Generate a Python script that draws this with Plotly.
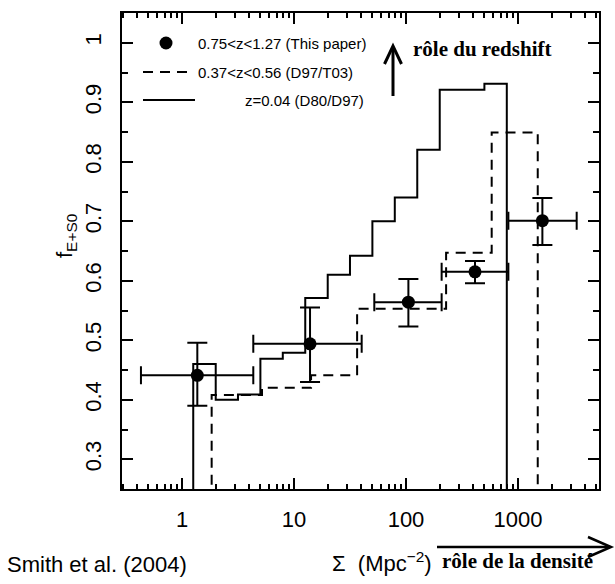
import plotly.graph_objects as go

# ---------------- data ----------------
# filled points: 0.75<z<1.27 (This paper)
pt_sigma = [1.37, 13.9, 105, 413, 1650]
pt_sigma_lo = [0.43, 4.33, 52.1, 208, 820]
pt_sigma_hi = [4.33, 40.2, 208, 820, 3340]
pt_frac = [0.441, 0.494, 0.564, 0.615, 0.701]
pt_frac_lo = [0.390, 0.430, 0.523, 0.596, 0.660]
pt_frac_hi = [0.496, 0.555, 0.603, 0.633, 0.739]

# dashed histogram: 0.37<z<0.56 (D97/T03)
mid_edges = [1.84, 5.18, 14.2, 36.6, 228, 582, 1500]
mid_frac = [0.408, 0.420, 0.441, 0.553, 0.647, 0.849]

# solid histogram: z=0.04 (D80/D97)
low_edges = [1.26, 2.0, 3.16, 5.01, 7.94, 12.6, 20.0, 31.6, 50.1, 79.4, 126, 200, 501, 794]
low_frac = [0.460, 0.400, 0.409, 0.469, 0.479, 0.571, 0.610, 0.642, 0.700, 0.740, 0.820, 0.921, 0.931]

x_major = [1, 10, 100, 1000]
x_major_text = ["1", "10", "100", "1000"]
y_major = [0.3, 0.4, 0.5, 0.6, 0.7, 0.8, 0.9, 1.0]
y_major_text = ["0.3", "0.4", "0.5", "0.6", "0.7", "0.8", "0.9", "1"]

# ---------------- layout geometry ----------------
W, H = 615, 584
L, R, T, B = 122, 599, 13, 489
Y_MIN, Y_MAX = 0.25, 1.05
X_LOG_MIN, X_LOG_MAX = -0.5357, 3.723


def px(x):
    return (x - L) / (R - L)


def py(y):
    return (B - y) / (B - T)


def step_path(edges, levels, floor=0.0):
    xs, ys = [edges[0]], [floor]
    for i, lv in enumerate(levels):
        xs += [edges[i], edges[i + 1]]
        ys += [lv, lv]
    xs.append(edges[-1])
    ys.append(floor)
    return xs, ys


fig = go.Figure()

sx, sy = step_path(low_edges, low_frac)
fig.add_trace(go.Scatter(x=sx, y=sy, mode="lines",
                         line=dict(color="black", width=2), showlegend=False))

dx, dy = step_path(mid_edges, mid_frac)
fig.add_trace(go.Scatter(x=dx, y=dy, mode="lines",
                         line=dict(color="black", width=2, dash="10px,7px"),
                         showlegend=False))

fig.add_trace(go.Scatter(
    x=pt_sigma, y=pt_frac, mode="markers",
    marker=dict(color="black", size=13, symbol="circle"),
    error_x=dict(type="data", symmetric=False,
                 array=[h - c for h, c in zip(pt_sigma_hi, pt_sigma)],
                 arrayminus=[c - l for c, l in zip(pt_sigma, pt_sigma_lo)],
                 color="black", thickness=2, width=9),
    error_y=dict(type="data", symmetric=False,
                 array=[h - c for h, c in zip(pt_frac_hi, pt_frac)],
                 arrayminus=[c - l for c, l in zip(pt_frac, pt_frac_lo)],
                 color="black", thickness=2, width=10),
    showlegend=False))

minor_x = [m * 10 ** k for k in range(-1, 4) for m in range(2, 10)]

tickfont = dict(family="Liberation Sans", size=22, color="black")

fig.update_layout(
    width=W, height=H,
    margin=dict(l=L, r=W - R, t=T, b=H - B, pad=0),
    paper_bgcolor="white", plot_bgcolor="white",
    showlegend=False,
    xaxis=dict(type="log", range=[X_LOG_MIN, X_LOG_MAX],
               showline=True, linewidth=2, linecolor="black", mirror="allticks",
               ticks="inside", ticklen=11, tickwidth=1.5, tickcolor="black",
               tickmode="array", tickvals=x_major, ticktext=x_major_text,
               minor=dict(ticks="inside", ticklen=5, tickwidth=1.5, tickcolor="black",
                          tickmode="array", tickvals=minor_x),
               showgrid=False, zeroline=False, tickfont=tickfont,
               ticklabelstandoff=10),
    yaxis=dict(range=[Y_MIN, Y_MAX],
               showline=True, linewidth=2, linecolor="black", mirror="allticks",
               ticks="inside", ticklen=11, tickwidth=1.5, tickcolor="black",
               tickmode="array", tickvals=y_major, ticktext=y_major_text,
               minor=dict(ticks="inside", ticklen=6, tickwidth=1.5, tickcolor="black",
                          dtick=0.05, tick0=0),
               showgrid=False, zeroline=False, tickfont=tickfont, tickangle=-90,
               ticklabelstandoff=10),
)

shapes = []
ann = []

# legend
shapes.append(dict(type="circle", xref="paper", yref="paper",
                   x0=px(166 - 6.5), x1=px(166 + 6.5), y0=py(43 + 6.5), y1=py(43 - 6.5),
                   fillcolor="black", line=dict(color="black", width=0)))
shapes.append(dict(type="line", xref="paper", yref="paper",
                   x0=px(143), x1=px(194), y0=py(72), y1=py(72),
                   line=dict(color="black", width=2, dash="10px,7px")))
shapes.append(dict(type="line", xref="paper", yref="paper",
                   x0=px(143), x1=px(195), y0=py(100), y1=py(100),
                   line=dict(color="black", width=2)))
legfont = dict(family="Liberation Sans", size=15, color="black")
for txt, x0, y0 in [("0.75<z<1.27 (This paper)", 196, 43),
                    ("0.37<z<0.56 (D97/T03)", 196, 72),
                    ("z=0.04 (D80/D97)", 243, 100)]:
    ann.append(dict(text=txt, xref="paper", yref="paper", x=px(x0), y=py(y0),
                    xanchor="left", yanchor="middle", showarrow=False, font=legfont))

# redshift arrow
shapes.append(dict(type="path", xref="paper", yref="paper",
                   path=f"M {px(393)},{py(96)} L {px(393)},{py(47)}",
                   line=dict(color="black", width=3)))
shapes.append(dict(type="path", xref="paper", yref="paper",
                   path=f"M {px(384.5)},{py(64)} L {px(393)},{py(46)} L {px(401.5)},{py(64)}",
                   line=dict(color="black", width=3)))
ann.append(dict(text="<b>rôle du redshift</b>", xref="paper", yref="paper",
                x=px(411), y=py(49), xanchor="left", yanchor="middle", showarrow=False,
                font=dict(family="Liberation Serif", size=21, color="black")))

# density arrow
shapes.append(dict(type="path", xref="paper", yref="paper",
                   path=f"M {px(437)},{py(547)} L {px(610)},{py(547)}",
                   line=dict(color="black", width=2.5)))
shapes.append(dict(type="path", xref="paper", yref="paper",
                   path=f"M {px(588)},{py(537)} L {px(611)},{py(547)} L {px(588)},{py(557)}",
                   line=dict(color="black", width=2.5)))
ann.append(dict(text="<b>rôle de la densité</b>", xref="paper", yref="paper",
                x=px(440), y=py(561), xanchor="left", yanchor="middle", showarrow=False,
                font=dict(family="Liberation Serif", size=21, color="black")))

# axis labels and credit
ann.append(dict(text="Σ  (Mpc<sup>−2</sup>)", xref="paper", yref="paper",
                x=px(330), y=py(562), xanchor="left", yanchor="middle", showarrow=False,
                font=dict(family="Liberation Sans", size=22, color="black")))
ann.append(dict(text="Smith et al. (2004)", xref="paper", yref="paper",
                x=px(5), y=py(565), xanchor="left", yanchor="middle", showarrow=False,
                font=dict(family="Liberation Sans", size=22, color="black")))
ann.append(dict(text="f<sub>E+S0</sub>", xref="paper", yref="paper",
                x=px(66), y=py(236), xanchor="center", yanchor="middle", showarrow=False,
                textangle=-90,
                font=dict(family="Liberation Sans", size=22, color="black")))

fig.update_layout(shapes=shapes, annotations=ann)
fig.write_html("out.html")
